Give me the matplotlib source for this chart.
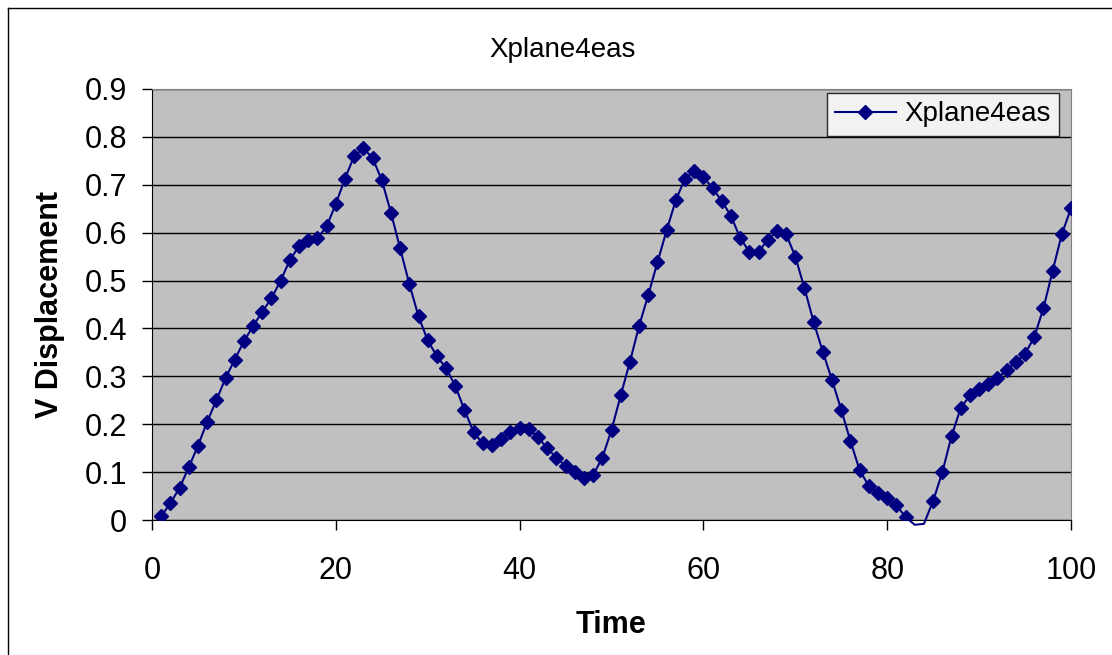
import numpy as np
import matplotlib.pyplot as plt
from matplotlib.lines import Line2D

plt.rcParams['font.family'] = ['Liberation Sans', 'DejaVu Sans']

time = np.arange(1, 101)
v_disp = [
    0.008, 0.035, 0.067, 0.110, 0.155, 0.205, 0.250, 0.296, 0.335, 0.373,
    0.405, 0.435, 0.463, 0.500, 0.543, 0.572, 0.585, 0.588, 0.613, 0.660,
    0.713, 0.760, 0.776, 0.756, 0.710, 0.642, 0.567, 0.493, 0.425, 0.375,
    0.342, 0.317, 0.280, 0.230, 0.183, 0.160, 0.156, 0.170, 0.183, 0.192,
    0.190, 0.173, 0.150, 0.130, 0.113, 0.100, 0.088, 0.094, 0.130, 0.188,
    0.260, 0.330, 0.405, 0.470, 0.538, 0.605, 0.668, 0.713, 0.728, 0.716,
    0.693, 0.666, 0.635, 0.589, 0.560, 0.560, 0.585, 0.603, 0.597, 0.550,
    0.484, 0.413, 0.351, 0.292, 0.230, 0.165, 0.104, 0.071, 0.056, 0.046,
    0.031, 0.006, -0.010, -0.008, 0.040, 0.100, 0.175, 0.234, 0.260, 0.273,
    0.284, 0.296, 0.313, 0.330, 0.347, 0.382, 0.442, 0.520, 0.597, 0.651,
]
v_disp = np.array(v_disp)

navy = '#000080'

fig = plt.figure(figsize=(11.12, 6.55), dpi=100)
ax = fig.add_axes([152 / 1112, 135 / 655, 919 / 1112, 431 / 655])
ax.set_facecolor('#C0C0C0')

# line may dip slightly below zero, markers outside the axis are hidden
ax.plot(time, v_disp, color=navy, lw=1.5, clip_on=False, zorder=3)
shown = v_disp >= 0
ax.plot(time[shown], v_disp[shown], ls='none', marker='D', ms=6.8,
        color=navy, zorder=4, label='Xplane4eas')

ax.set_xlim(0, 100)
ax.set_ylim(0, 0.9)
ax.set_xticks([0, 20, 40, 60, 80, 100])
ax.set_yticks(np.arange(0, 0.91, 0.1))
ax.set_yticklabels(['0', '0.1', '0.2', '0.3', '0.4', '0.5', '0.6', '0.7', '0.8', '0.9'])
ax.grid(axis='y', color='black', lw=1)
ax.set_axisbelow(True)
ax.tick_params(direction='out', length=7, width=1, labelsize=22, color='black')
ax.tick_params(axis='y', pad=11)
ax.tick_params(axis='x', pad=19)

for s in ['left', 'bottom']:
    ax.spines[s].set_color('black')
for s in ['top', 'right']:
    ax.spines[s].set_color('#808080')

ax.set_xlabel('Time', fontsize=22, fontweight='bold', labelpad=17)
ax.set_ylabel('V Displacement', fontsize=22, fontweight='bold', labelpad=14)
fig.text(563 / 1112, 1 - 50 / 655, 'Xplane4eas', fontsize=20,
         ha='center', va='center')

leg = ax.legend(loc='upper right', bbox_to_anchor=(1059 / 1112, 1 - 93 / 655),
                bbox_transform=fig.transFigure, fontsize=20, frameon=True,
                fancybox=False, borderpad=0.3, handlelength=2.2,
                handletextpad=0.3, borderaxespad=0)
leg.get_frame().set_edgecolor('black')
leg.get_frame().set_linewidth(1)
# legend handle shows line through marker
leg.legend_handles[0].set_linestyle('-')
leg.legend_handles[0].set_linewidth(1.5)

# outer chart border
fig.add_artist(Line2D([8 / 1112, 8 / 1112], [0, 1 - 8 / 655], color='black', lw=1))
fig.add_artist(Line2D([8 / 1112, 1], [1 - 8 / 655, 1 - 8 / 655], color='black', lw=1))

fig.savefig('out.png', dpi=100)
